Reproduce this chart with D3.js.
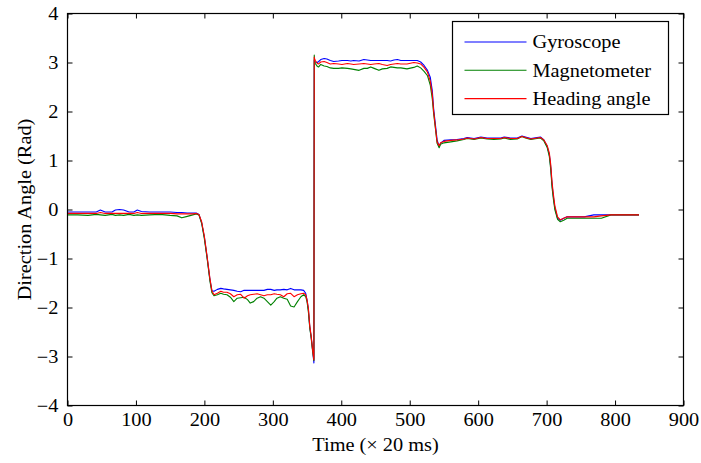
<!DOCTYPE html>
<html>
<head>
<meta charset="utf-8">
<script src="https://cdn.jsdelivr.net/npm/d3@7"></script>
<style>
  html, body { margin: 0; padding: 0; background: #fff; }
  svg text { font-family: 'Liberation Serif', 'Times New Roman', serif; fill: #000; }
  .axis path, .axis line { stroke: #000; }
</style>
</head>
<body>
<svg id="chart" width="701" height="463"></svg>
<script>
// Time samples (x 20 ms)
const time = [
  0, 15, 30, 42, 48, 55, 65, 70, 76, 82, 90, 97, 102, 108, 120, 135, 150, 160, 167, 175, 183, 188,
  192, 196, 200, 204, 208, 211,
  214, 219, 224, 228, 233, 238, 243, 248, 253, 258, 263, 267, 272, 277, 282, 287, 292, 297, 302, 306, 311, 316, 321, 326, 331, 336, 341, 345, 348,
  350, 352, 354, 356, 358, 360,
  360.5, 361, 362, 365, 367, 370, 375, 379, 384, 389, 396, 401, 409, 414, 418, 426, 433, 438, 443, 448, 455, 460, 467, 472, 477, 482, 487, 496, 506, 511, 516, 521, 526, 530, 533, 535, 538, 540, 543, 545,
  550, 560, 569, 579, 584, 594, 604, 613, 623, 633, 638, 647, 657, 664, 669, 677, 686, 691, 696, 701, 704, 706, 708, 710, 712, 716, 720, 725, 730, 740, 755, 769, 780, 794, 810, 835
];

const gyroscope = [
  -0.05, -0.05, -0.05, -0.05, -0.01, -0.05, -0.05, -0.01, 0.00, -0.01, -0.05, -0.05, -0.01, -0.04, -0.05, -0.05, -0.05, -0.06, -0.06, -0.07, -0.07, -0.07,
  -0.10, -0.27, -0.57, -0.98, -1.42, -1.66,
  -1.67, -1.63, -1.61, -1.62, -1.63, -1.64, -1.65, -1.67, -1.68, -1.65, -1.65, -1.65, -1.65, -1.65, -1.65, -1.65, -1.63, -1.63, -1.65, -1.64, -1.64, -1.63, -1.64, -1.61, -1.64, -1.64, -1.64, -1.65, -1.71,
  -1.85, -2.05, -2.40, -2.60, -2.85, -3.13,
  3.05, 3.01, 3.01, 3.00, 3.02, 3.06, 3.08, 3.07, 3.04, 3.02, 3.03, 3.04, 3.04, 3.03, 3.04, 3.03, 3.06, 3.05, 3.04, 3.04, 3.04, 3.04, 3.04, 3.03, 3.05, 3.06, 3.04, 3.04, 3.04, 3.04, 3.01, 2.94, 2.84, 2.70, 2.42, 2.05, 1.67, 1.42, 1.28, 1.35,
  1.41, 1.42, 1.43, 1.45, 1.47, 1.45, 1.48, 1.46, 1.46, 1.46, 1.48, 1.46, 1.46, 1.50, 1.48, 1.45, 1.47, 1.48, 1.42, 1.28, 1.12, 0.87, 0.50, 0.25, 0.04, -0.18, -0.22, -0.18, -0.15, -0.15, -0.15, -0.11, -0.11, -0.11, -0.11, -0.11
];

const magnetometer = [
  -0.11, -0.11, -0.12, -0.10, -0.11, -0.12, -0.10, -0.12, -0.11, -0.12, -0.10, -0.12, -0.11, -0.12, -0.11, -0.10, -0.12, -0.13, -0.17, -0.14, -0.11, -0.09,
  -0.11, -0.28, -0.60, -1.00, -1.45, -1.70,
  -1.76, -1.74, -1.71, -1.73, -1.74, -1.79, -1.88, -1.81, -1.80, -1.79, -1.84, -1.91, -1.88, -1.81, -1.78, -1.81, -1.88, -1.95, -1.88, -1.81, -1.78, -1.81, -1.83, -1.97, -1.99, -1.88, -1.78, -1.74, -1.78,
  -1.88, -2.10, -2.42, -2.62, -2.88, -3.08,
  3.15, 3.03, 2.98, 2.92, 2.91, 2.96, 2.93, 2.92, 2.89, 2.88, 2.88, 2.89, 2.88, 2.87, 2.86, 2.84, 2.88, 2.88, 2.91, 2.88, 2.84, 2.87, 2.88, 2.91, 2.90, 2.89, 2.89, 2.87, 2.90, 2.93, 2.89, 2.82, 2.73, 2.54, 2.25, 1.95, 1.60, 1.35, 1.26, 1.33,
  1.36, 1.38, 1.40, 1.43, 1.45, 1.43, 1.46, 1.44, 1.43, 1.44, 1.46, 1.43, 1.44, 1.49, 1.46, 1.43, 1.45, 1.46, 1.40, 1.26, 1.08, 0.82, 0.44, 0.20, 0.00, -0.20, -0.25, -0.22, -0.18, -0.18, -0.18, -0.18, -0.18, -0.11, -0.11, -0.11
];

const heading = [
  -0.08, -0.08, -0.08, -0.08, -0.06, -0.08, -0.08, -0.08, -0.08, -0.08, -0.08, -0.08, -0.06, -0.08, -0.08, -0.08, -0.08, -0.09, -0.09, -0.09, -0.09, -0.08,
  -0.10, -0.25, -0.55, -0.96, -1.40, -1.66,
  -1.74, -1.71, -1.67, -1.69, -1.69, -1.72, -1.78, -1.74, -1.73, -1.81, -1.76, -1.74, -1.73, -1.72, -1.74, -1.76, -1.74, -1.74, -1.72, -1.73, -1.74, -1.78, -1.72, -1.71, -1.78, -1.74, -1.72, -1.71, -1.74,
  -1.85, -2.02, -2.38, -2.58, -2.85, -3.07,
  3.11, 3.08, 3.04, 2.98, 2.97, 3.01, 3.02, 3.00, 2.97, 2.98, 2.97, 2.96, 2.98, 2.97, 2.96, 2.97, 2.98, 2.97, 2.96, 2.97, 2.98, 2.96, 2.94, 2.96, 2.97, 2.98, 2.97, 2.97, 3.00, 2.99, 2.97, 2.90, 2.80, 2.62, 2.35, 2.00, 1.62, 1.38, 1.30, 1.36,
  1.39, 1.41, 1.42, 1.44, 1.46, 1.44, 1.47, 1.45, 1.45, 1.45, 1.47, 1.45, 1.45, 1.49, 1.47, 1.44, 1.46, 1.47, 1.42, 1.30, 1.15, 0.92, 0.55, 0.30, 0.08, -0.15, -0.21, -0.18, -0.15, -0.15, -0.15, -0.15, -0.13, -0.11, -0.11, -0.11
];

const xTicks = [0, 100, 200, 300, 400, 500, 600, 700, 800, 900];
const yTicks = [-4, -3, -2, -1, 0, 1, 2, 3, 4];

const seriesNames = ['Gyroscope', 'Magnetometer', 'Heading angle'];
const seriesColors = ['#0000ff', '#008000', '#ff0000'];
const seriesValues = [gyroscope, magnetometer, heading];

const FONT = "'Liberation Serif', 'Times New Roman', serif";
const FONT_SIZE = 18;
const STRETCH = 1.13;

const svg = d3.select('#chart');

const plotLeft = 67.5, plotRight = 683.5, plotTop = 13.5, plotBottom = 405.5;

const x = d3.scaleLinear().domain([0, 900]).range([plotLeft, plotRight]);
const y = d3.scaleLinear().domain([-4, 4]).range([plotBottom, plotTop]);

//
// Axes (ticks pointing inward, mirrored on top / right)
//

const xAxis = svg.append('g')
  .attr('class', 'axis')
  .attr('transform', `translate(0,${plotBottom})`)
  .call(d3.axisBottom(x).tickValues(xTicks).tickSizeInner(-5).tickSizeOuter(0).tickPadding(8));

svg.append('g')
  .attr('class', 'axis')
  .attr('transform', `translate(0,${plotTop})`)
  .call(d3.axisTop(x).tickValues(xTicks).tickSizeInner(-5).tickSizeOuter(0).tickFormat(() => ''));

const yAxis = svg.append('g')
  .attr('class', 'axis')
  .attr('transform', `translate(${plotLeft},0)`)
  .call(d3.axisLeft(y).tickValues(yTicks).tickSizeInner(-5).tickSizeOuter(0).tickPadding(8));

svg.append('g')
  .attr('class', 'axis')
  .attr('transform', `translate(${plotRight},0)`)
  .call(d3.axisRight(y).tickValues(yTicks).tickSizeInner(-5).tickSizeOuter(0).tickFormat(() => ''));

svg.selectAll('.axis .domain').remove();
svg.selectAll('.axis').attr('font-family', FONT).attr('font-size', FONT_SIZE);

xAxis.selectAll('text')
  .style('font-family', FONT)
  .style('font-size', FONT_SIZE + 'px')
  .attr('transform', `scale(${STRETCH},1)`);

yAxis.selectAll('text')
  .style('font-family', FONT)
  .style('font-size', FONT_SIZE + 'px')
  .attr('transform', `scale(${STRETCH},1)`);

//
// Lines
//

const line = d3.line()
  .x((d, i) => x(time[i]))
  .y((d) => y(d));

seriesValues.forEach((values, k) => {
  svg.append('path')
    .datum(values)
    .attr('fill', 'none')
    .attr('stroke', seriesColors[k])
    .attr('stroke-width', 1.1)
    .attr('stroke-linejoin', 'round')
    .attr('d', line);
});

//
// Frame
//

svg.append('rect')
  .attr('x', plotLeft)
  .attr('y', plotTop)
  .attr('width', plotRight - plotLeft)
  .attr('height', plotBottom - plotTop)
  .attr('fill', 'none')
  .attr('stroke', '#000')
  .attr('stroke-width', 1.2);

//
// Axis labels
//

svg.append('text')
  .attr('transform', `translate(${(plotLeft + plotRight) / 2},451) scale(${STRETCH},1)`)
  .attr('text-anchor', 'middle')
  .style('font-size', FONT_SIZE + 'px')
  .text('Time (\u00d7 20 ms)');

svg.append('text')
  .attr('transform', `translate(31,${(plotTop + plotBottom) / 2}) rotate(-90) scale(${STRETCH},1)`)
  .attr('text-anchor', 'middle')
  .style('font-size', FONT_SIZE + 'px')
  .text('Direction Angle (Rad)');

//
// Legend
//

const legend = svg.append('g').attr('transform', 'translate(452.5,21.5)');

legend.append('rect')
  .attr('width', 216)
  .attr('height', 93)
  .attr('fill', '#fff')
  .attr('stroke', '#000')
  .attr('stroke-width', 1.2);

seriesNames.forEach((name, k) => {
  const rowY = 20.5 + k * 28.3;
  legend.append('line')
    .attr('x1', 12)
    .attr('x2', 74)
    .attr('y1', rowY)
    .attr('y2', rowY)
    .attr('stroke', seriesColors[k])
    .attr('stroke-width', 1.1);
  legend.append('text')
    .attr('transform', `translate(80,${rowY}) scale(${STRETCH},1)`)
    .attr('dy', '0.35em')
    .style('font-size', FONT_SIZE + 'px')
    .text(name);
});
</script>
</body>
</html>
